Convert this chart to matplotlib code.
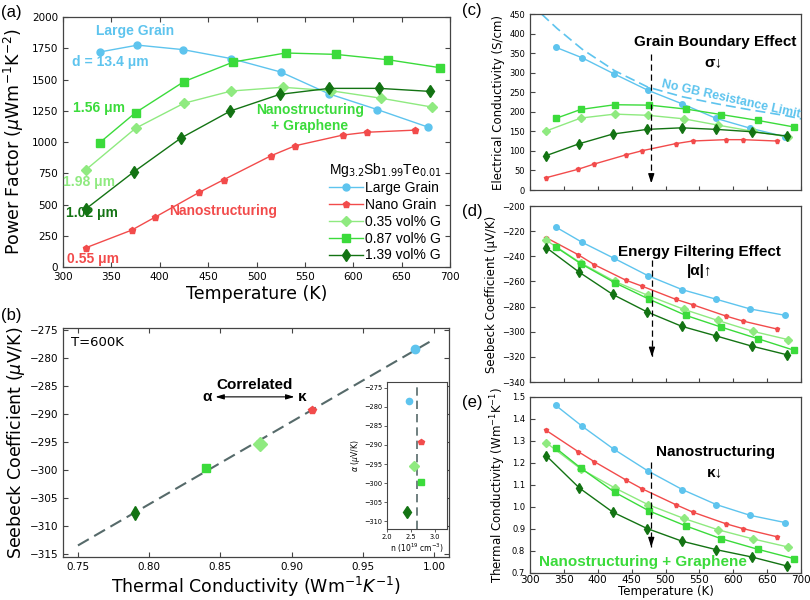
import numpy as np
import matplotlib
matplotlib.use("Agg")
import matplotlib.pyplot as plt

# ---------------- data ----------------
labels = ["Large Grain", "Nano Grain", "0.35 vol% G", "0.87 vol% G", "1.39 vol% G"]
colors = ["#5EC4EE", "#F24B4B", "#8FEA80", "#3BDB3B", "#137313"]
markers = ["o", "p", "D", "s", "d"]

T_large = [338, 377, 424, 474, 525, 575, 625, 677]
T_nano = [324, 371, 395, 441, 466, 515, 540, 589, 614, 664]
T_g035 = [324, 375, 425, 474, 527, 577, 629, 681]
T_g087 = [338, 375, 425, 476, 530, 582, 636, 690]
T_g139 = [324, 373, 422, 473, 524, 575, 627, 679]

# power factor (uW m^-1 K^-2)
pf_large = [1720, 1775, 1739, 1667, 1560, 1385, 1259, 1120]
pf_nano = [155, 295, 398, 598, 698, 890, 970, 1055, 1078, 1095]
pf_g035 = [780, 1110, 1310, 1408, 1438, 1410, 1350, 1280]
pf_g087 = [995, 1235, 1483, 1640, 1712, 1701, 1658, 1594]
pf_g139 = [467, 760, 1032, 1248, 1381, 1429, 1429, 1405]

# electrical conductivity (S/cm)
sig_large = [365, 338, 297, 255, 220, 183, 158, 136]
sig_nano = [31.5, 53, 66.5, 89.5, 100.6, 118.5, 125.3, 128.7, 128.7, 125.3]
sig_g035 = [151, 184, 194, 191, 182, 166, 150, 136]
sig_g087 = [183, 206, 218, 217, 207, 193, 178, 161]
sig_g139 = [88, 118.5, 143, 155, 159, 155, 149, 138]

# "no GB resistance limit" dashed curve
T_nogb = [317, 340, 377, 425, 474, 526, 577, 625, 678, 700]
sig_nogb = [450, 413, 360, 305, 263, 238, 220, 205, 190, 182]

# Seebeck coefficient (uV/K)
S_large = [-216.7, -228.9, -241.6, -255.4, -266.6, -274.2, -281.9, -287.0]
S_nano = [-225.2, -238.7, -246.7, -258.9, -263.9, -274.2, -278.5, -287.5, -291.5, -297.8]
S_g035 = [-227.3, -245.3, -259.9, -271.1, -282.2, -291.0, -299.7, -306.3]
S_g087 = [-232.6, -245.9, -261.0, -274.2, -287.0, -296.3, -305.5, -314.8]
S_g139 = [-233.1, -252.8, -270.3, -284.3, -295.7, -303.4, -311.4, -318.3]

# thermal conductivity (W m^-1 K^-1)
k_large = [1.462, 1.367, 1.262, 1.164, 1.079, 1.011, 0.962, 0.929]
k_nano = [1.348, 1.252, 1.206, 1.124, 1.082, 1.011, 0.977, 0.924, 0.902, 0.865]
k_g035 = [1.292, 1.173, 1.087, 1.011, 0.948, 0.897, 0.855, 0.818]
k_g087 = [1.268, 1.177, 1.067, 0.982, 0.914, 0.856, 0.808, 0.765]
k_g139 = [1.233, 1.086, 0.977, 0.902, 0.845, 0.806, 0.773, 0.732]

# panel (b): T = 600 K
kappa_600 = [0.9865, 0.914, 0.8775, 0.840, 0.7897]
alpha_600 = [-278.4, -289.3, -295.4, -299.6, -307.6]
n_600 = [2.46, 2.71, 2.56, 2.71, 2.41]
n_mean = 2.62

T_all = [T_large, T_nano, T_g035, T_g087, T_g139]
pf_all = [pf_large, pf_nano, pf_g035, pf_g087, pf_g139]
sig_all = [sig_large, sig_nano, sig_g035, sig_g087, sig_g139]
S_all = [S_large, S_nano, S_g035, S_g087, S_g139]
k_all = [k_large, k_nano, k_g035, k_g087, k_g139]

ANN = "Liberation Sans"
W, H = 810, 600

def box(l, t, r, b):
    return [l / W, 1 - b / H, (r - l) / W, (b - t) / H]

fig = plt.figure(figsize=(8.1, 6.0), dpi=100)

def style(ax, lab=7, ticks_all=True):
    for s in ax.spines.values():
        s.set_color("#444444")
        s.set_linewidth(0.9)
    ax.tick_params(direction="in", top=ticks_all, right=ticks_all,
                   labelsize=lab, length=3.5, color="#444444")

# ---------- (a) power factor ----------
ms_a = [5, 4.5, 4.8, 5.2, 6.5]
axa = fig.add_axes(box(63, 17, 450, 267))
for i in range(5):
    axa.plot(T_all[i], pf_all[i], marker=markers[i], color=colors[i], ms=ms_a[i],
             lw=1.0, label=labels[i])
axa.set_xlim(300, 700)
axa.set_ylim(0, 2000)
axa.set_xticks(np.arange(300, 701, 50))
axa.set_yticks(np.arange(0, 2001, 250))
style(axa, lab=7.5)
axa.set_xlabel("Temperature (K)", fontsize=12.5, labelpad=2)
axa.set_ylabel(r"Power Factor ($\mu$Wm$^{-1}$K$^{-2}$)", fontsize=12.5, labelpad=4)
leg = axa.legend(title=r"Mg$_{3.2}$Sb$_{1.99}$Te$_{0.01}$", loc="lower right",
                 bbox_to_anchor=(1.0, -0.015), frameon=False, handlelength=2.4,
                 handletextpad=0.2, labelspacing=0.2, borderaxespad=0.2,
                 prop={"family": ANN, "size": 10})
leg.get_title().set_fontfamily(ANN)
leg.get_title().set_fontsize(10)

kw = dict(family=ANN, weight="bold", fontsize=10, ha="center", va="center")
axa.text(374, 1890, "Large Grain", color=colors[0], **kw)
axa.text(349, 1640, "d = 13.4 μm", color=colors[0], **kw)
axa.text(337, 1270, "1.56 μm", color=colors[3], **kw)
axa.text(327, 682, "1.98 μm", color=colors[2], **kw)
axa.text(330, 435, "1.02 μm", color=colors[4], **kw)
axa.text(331, 61, "0.55 μm", color=colors[1], **kw)
axa.text(465, 451, "Nanostructuring", color=colors[1], **kw)
axa.text(555, 1190, "Nanostructuring\n+ Graphene", color=colors[3], linespacing=1.15, **kw)

# ---------- (b) alpha vs kappa ----------
ms_b = [6, 5.5, 7, 6, 7.5]
axb = fig.add_axes(box(63, 328, 449, 557))
fit = np.polyfit(kappa_600, alpha_600, 1)
kx = np.array([0.75, 1.0])
axb.plot(kx, np.polyval(fit, kx), color="#566A6A", lw=1.5, dashes=(6, 3))
for i in range(5):
    axb.plot(kappa_600[i], alpha_600[i], marker=markers[i], color=colors[i],
             ms=ms_b[i], ls="none")
axb.set_xlim(0.7395, 1.0105)
axb.set_ylim(-315.5, -274.6)
axb.set_xticks(np.arange(0.75, 1.001, 0.05))
axb.set_yticks(np.arange(-315, -274, 5))
style(axb, lab=7.5)
axb.set_xlabel(r"Thermal Conductivity (Wm$^{-1}K^{-1}$)", fontsize=12.5, labelpad=2)
axb.set_ylabel(r"Seebeck Coefficient ($\mu$V/K)", fontsize=12.5, labelpad=2)
axb.text(0.02, 0.965, "T=600K", transform=axb.transAxes, fontsize=9.5,
         ha="left", va="top")
axb.text(0.874, -284.8, "Correlated", family=ANN, weight="bold", fontsize=11,
         ha="center", va="center")
axb.text(0.8407, -287.0, "α", family=ANN, weight="bold", fontsize=11,
         ha="center", va="center")
axb.text(0.9075, -287.0, "κ", family=ANN, weight="bold", fontsize=11,
         ha="center", va="center")
axb.annotate("", xy=(0.8465, -286.9), xytext=(0.902, -286.9),
             arrowprops=dict(arrowstyle="<|-|>,head_width=0.15,head_length=0.5",
                             color="k", lw=0.8, shrinkA=0, shrinkB=0))

# inset: alpha vs carrier concentration
ms_i = [4.5, 4.2, 5.5, 4.5, 6]
axi = fig.add_axes(box(387, 382, 447, 529))
axi.axvline(n_mean, color="#566A6A", lw=1.2, dashes=(5, 3))
for i in range(5):
    axi.plot(n_600[i], alpha_600[i], marker=markers[i], color=colors[i],
             ms=ms_i[i], ls="none")
axi.set_xlim(2.0, 3.25)
axi.set_ylim(-312, -273.5)
axi.set_xticks([2.0, 2.5, 3.0])
axi.set_yticks(np.arange(-310, -274, 5))
for s in axi.spines.values():
    s.set_color("#444444")
    s.set_linewidth(0.8)
axi.tick_params(labelsize=4.8, length=2, width=0.6, pad=1.5, color="#444444")
axi.set_ylabel(r"$\alpha$ ($\mu$V/K)", fontsize=5.5, labelpad=1)
axi.set_xlabel(r"n (10$^{19}$ cm$^{-3}$)", fontsize=5.5, labelpad=1)

# ---------- (c), (d), (e) ----------
ms_s = [4, 3.6, 4, 4.2, 5.5]
axc = fig.add_axes(box(530, 14, 801, 190))
axd = fig.add_axes(box(530, 206, 801, 382))
axe = fig.add_axes(box(530, 397, 801, 573))
for ax, ys in [(axc, sig_all), (axd, S_all), (axe, k_all)]:
    for i in range(5):
        ax.plot(T_all[i], ys[i], marker=markers[i], color=colors[i], ms=ms_s[i], lw=1.0)
    ax.set_xlim(300, 700)
    ax.set_xticks(np.arange(300, 701, 50))
    style(ax, lab=6, ticks_all=False)
    ax.tick_params(axis="x", labelsize=7.5, length=3, pad=1.5)

axc.plot(T_nogb, sig_nogb, color=colors[0], lw=1.2, dashes=(6, 3))
axc.set_ylim(0, 450)
axc.set_yticks(np.arange(0, 451, 50))
axc.tick_params(axis="x", labelbottom=False)
axc.set_ylabel("Electrical Conductivity (S/cm)", fontsize=8.5, labelpad=3)
axc.text(574, 379, "Grain Boundary Effect", family=ANN, weight="bold", fontsize=11,
         ha="center", va="center")
axc.text(571, 328, "σ↓", family=ANN, weight="bold", fontsize=11, ha="center", va="center")
axc.text(596, 232, "No GB Resistance Limit", family=ANN, weight="bold", fontsize=9,
         color=colors[0], rotation=-12.5, ha="center", va="center")

axd.set_ylim(-340, -200)
axd.set_yticks(np.arange(-340, -199, 20))
axd.tick_params(axis="x", labelbottom=False)
axd.set_ylabel("Seebeck Coefficient (μV/K)", fontsize=8.5, labelpad=3)
axd.text(550, -236.6, "Energy Filtering Effect", family=ANN, weight="bold", fontsize=11,
         ha="center", va="center")
axd.text(550, -252, "|α|↑", family=ANN, weight="bold", fontsize=11, ha="center", va="center")

axe.set_ylim(0.7, 1.5)
axe.set_yticks(np.arange(0.7, 1.51, 0.1))
axe.set_xlabel("Temperature (K)", fontsize=8.5, labelpad=0)
axe.set_ylabel(r"Thermal Conductivity (Wm$^{-1}$K$^{-1}$)", fontsize=8.5, labelpad=3)
axe.text(574, 1.25, "Nanostructuring", family=ANN, weight="bold", fontsize=11,
         ha="center", va="center")
axe.text(573, 1.159, "κ↓", family=ANN, weight="bold", fontsize=11, ha="center", va="center")
axe.text(467, 0.75, "Nanostructuring + Graphene", family=ANN, weight="bold", fontsize=11,
         color=colors[3], ha="center", va="center")

# dashed guide arrows
for ax, x, top, bot in [(axc, 479, 349, 17), (axd, 480, -243, -320), (axe, 479, 1.205, 0.818)]:
    ax.plot([x, x], [top, bot], color="k", lw=0.9, dashes=(5, 3))
    span = top - bot
    ax.annotate("", xy=(x, bot), xytext=(x, bot + 0.06 * span),
                arrowprops=dict(arrowstyle="-|>,head_width=0.18,head_length=0.55",
                                color="k", lw=0.9, shrinkA=0, shrinkB=0))

# panel labels
for lab, x, y in [("(a)", 11, 12), ("(b)", 11, 316), ("(c)", 472, 10),
                  ("(d)", 472, 212), ("(e)", 472, 403)]:
    fig.text(x / W, 1 - y / H, lab, family=ANN, fontsize=12, ha="center", va="center")

fig.savefig("out.png", dpi=100, facecolor="white")
